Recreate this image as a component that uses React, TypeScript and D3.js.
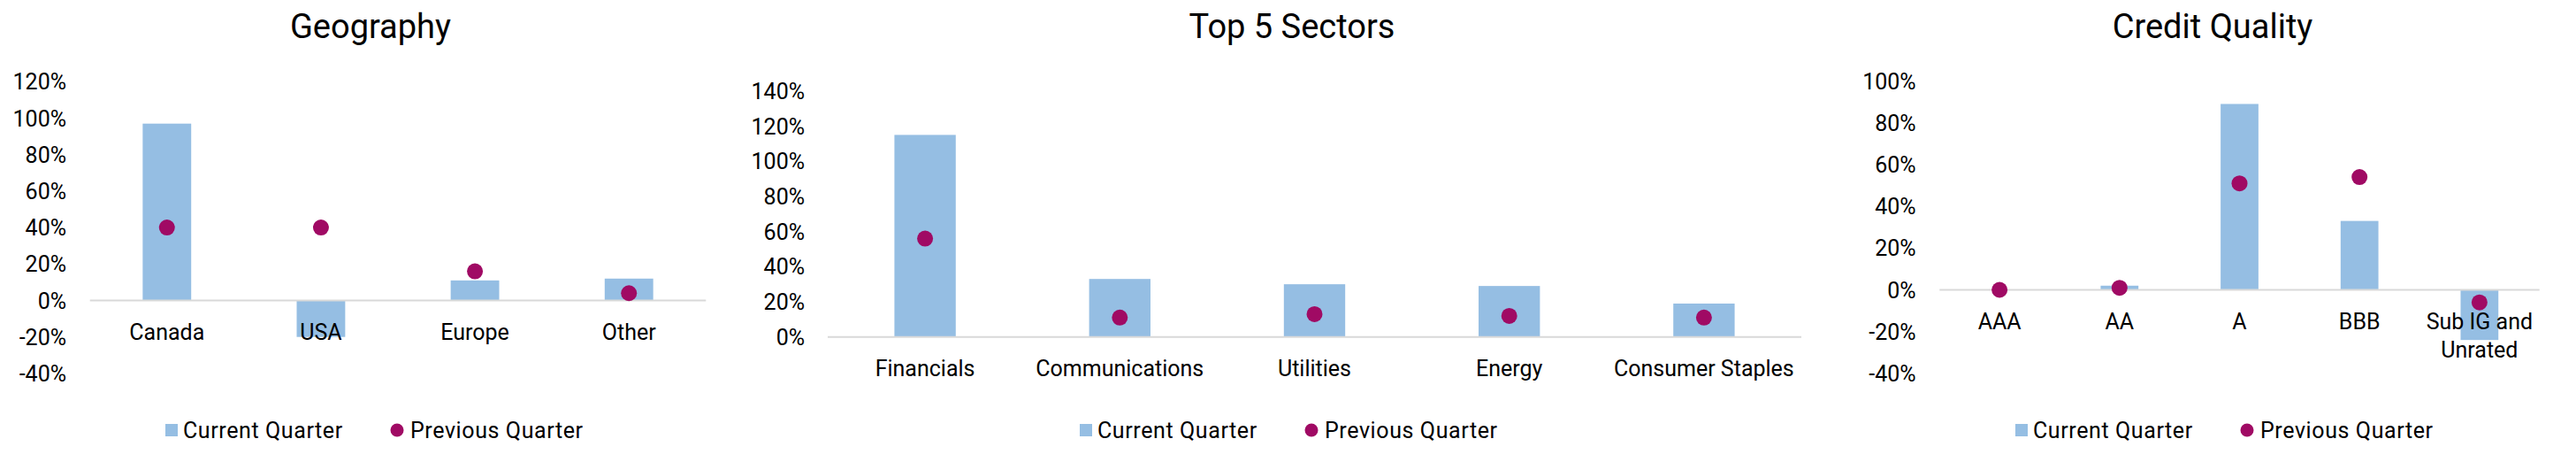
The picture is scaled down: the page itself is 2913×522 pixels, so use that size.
import React from "react";
import * as d3 from "d3";

// ---------- Data ----------
const geoCategories = ["Canada", "USA", "Europe", "Other"];
const geoCurrent = [97, -20, 11, 12];
const geoPrevious = [40, 40, 16, 4];
const geoTicks = [-40, -20, 0, 20, 40, 60, 80, 100, 120];

const sectorCategories = ["Financials", "Communications", "Utilities", "Energy", "Consumer Staples"];
const sectorCurrent = [115, 33, 30, 29, 19];
const sectorPrevious = [56, 11, 13, 12, 11];
const sectorTicks = [0, 20, 40, 60, 80, 100, 120, 140];

const creditCategories = ["AAA", "AA", "A", "BBB", "Sub IG and Unrated"];
const creditCurrent = [0, 2, 89, 33, -24];
const creditPrevious = [0, 1, 51, 54, -6];
const creditTicks = [-40, -20, 0, 20, 40, 60, 80, 100];

const seriesNames = ["Current Quarter", "Previous Quarter"];
const titles = ["Geography", "Top 5 Sectors", "Credit Quality"];

// ---------- Styles ----------
const BAR = "#95bee3";
const DOT = "#a00a64";
const AXIS = "#d9d9d9";
const FONT = "Roboto, 'Noto Sans', sans-serif";

type ChartProps = {
  title: string;
  titleX: number;
  categories: string[];
  current: number[];
  previous: number[];
  ticks: number[];
  x0: number;
  x1: number;
  yMin: number;
  yMax: number;
  yBottom: number;
  yTop: number;
  labelRight: number;
  legendX: number;
  lines?: Record<string, string[]>;
};

function Chart(p: ChartProps) {
  const x = d3.scaleBand<string>().domain(p.categories).range([p.x0, p.x1]).padding(0);
  const y = d3.scaleLinear().domain([p.yMin, p.yMax]).range([p.yBottom, p.yTop]);
  const bw = x.bandwidth() * 0.315;
  const zero = y(0);
  return (
    <g>
      <text x={p.titleX} y={43} textAnchor="middle" fontSize={38} fontWeight={400} fill="#000" fontFamily={FONT}>
        {p.title}
      </text>
      {p.ticks.map((t) => (
        <text key={t} x={p.labelRight} y={y(t)} dy="0.36em" textAnchor="end" fontSize={25} fill="#000" fontFamily={FONT}>
          {`${t}%`}
        </text>
      ))}
      {p.categories.map((c, i) => {
        const cx = (x(c) as number) + x.bandwidth() / 2;
        const v = p.current[i];
        return (
          <rect key={c} x={cx - bw / 2} width={bw} y={Math.min(y(v), zero)} height={Math.abs(y(v) - zero)} fill={BAR} />
        );
      })}
      <line x1={p.x0} x2={p.x1} y1={zero} y2={zero} stroke={AXIS} strokeWidth={2} />
      {p.categories.map((c, i) => {
        const cx = (x(c) as number) + x.bandwidth() / 2;
        const ls = (p.lines && p.lines[c]) || [c];
        return (
          <text key={c} x={cx} y={zero + 35} textAnchor="middle" fontSize={25} fill="#000" fontFamily={FONT}>
            {ls.map((l, k) => (
              <tspan key={k} x={cx} dy={k === 0 ? "0.36em" : 32}>
                {l}
              </tspan>
            ))}
          </text>
        );
      })}
      {p.categories.map((c, i) => {
        const cx = (x(c) as number) + x.bandwidth() / 2;
        return <circle key={c} cx={cx} cy={y(p.previous[i])} r={9} fill={DOT} />;
      })}
      <g fontFamily={FONT} fontSize={25} fill="#000">
        <rect x={p.legendX} y={479} width={14} height={14} fill={BAR} />
        <text x={p.legendX + 20} y={486} dy="0.36em" letterSpacing={0.6}>
          {seriesNames[0]}
        </text>
        <circle cx={p.legendX + 262} cy={486} r={7.5} fill={DOT} />
        <text x={p.legendX + 277} y={486} dy="0.36em" letterSpacing={0.6}>
          {seriesNames[1]}
        </text>
      </g>
    </g>
  );
}

export default function App() {
  return (
    <svg
      width={2913}
      height={522}
      style={{ position: "absolute", left: 0, top: 0, background: "#fff" }}
    >
      <rect x={0} y={0} width={2913} height={522} fill="#fff" />
      <Chart
        title={titles[0]}
        titleX={419}
        categories={geoCategories}
        current={geoCurrent}
        previous={geoPrevious}
        ticks={geoTicks}
        x0={101.7}
        x1={798.3}
        yMin={-40}
        yMax={120}
        yBottom={339.5 + 2 * 41.2}
        yTop={339.5 - 6 * 41.2}
        labelRight={75}
        legendX={187}
      />
      <Chart
        title={titles[1]}
        titleX={1461}
        categories={sectorCategories}
        current={sectorCurrent}
        previous={sectorPrevious}
        ticks={sectorTicks}
        x0={936}
        x1={2037}
        yMin={0}
        yMax={140}
        yBottom={380.7}
        yTop={380.7 - 7 * 39.7}
        labelRight={910}
        legendX={1221}
      />
      <Chart
        title={titles[2]}
        titleX={2502}
        categories={creditCategories}
        current={creditCurrent}
        previous={creditPrevious}
        ticks={creditTicks}
        x0={2193.3}
        x1={2871.7}
        yMin={-40}
        yMax={100}
        yBottom={327.5 + 2 * 47.2}
        yTop={327.5 - 5 * 47.2}
        labelRight={2166.7}
        legendX={2279}
        lines={{ "Sub IG and Unrated": ["Sub IG and", "Unrated"] }}
      />
    </svg>
  );
}
